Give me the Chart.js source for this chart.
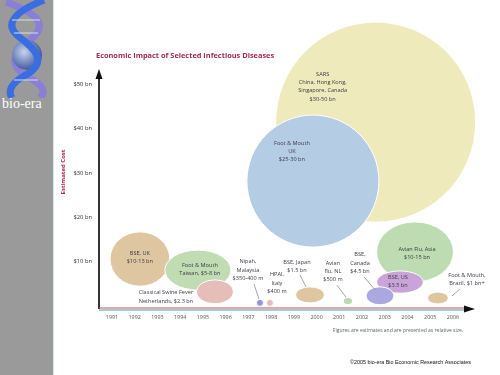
<!DOCTYPE html>
<html>
<head>
<meta charset="utf-8">
<script src="https://cdn.jsdelivr.net/npm/chart.js@4"></script>
<style>
  body { margin: 0; background: #fff; }
  #wrap { position: relative; width: 500px; height: 375px; overflow: hidden; }
  #side { position: absolute; left: 0; top: 0; width: 53px; height: 375px; background: #9a9a9a; border-right: 1px solid #cfe9ea; }
  #brand { position: absolute; left: 2px; top: 96px; color: #fff; font: 14px "Liberation Serif", "DejaVu Serif", serif; }
  #logo { position: absolute; left: 0; top: 0; }
  #chart { position: absolute; left: 0; top: 0; }
</style>
</head>
<body>
<div id="wrap">
  <div id="side">
    <svg id="logo" width="53" height="98" viewBox="0 0 53 98">
      <defs>
        <radialGradient id="globe" cx="0.4" cy="0.4" r="0.7">
          <stop offset="0" stop-color="#c8d2ea"/>
          <stop offset="0.6" stop-color="#6a7fb8"/>
          <stop offset="1" stop-color="#34468a"/>
        </radialGradient>
      </defs>
      <path d="M6 2 C 40 14, 48 26, 30 40 C 14 52, 6 66, 30 78 C 44 86, 46 92, 40 98" fill="none" stroke="#8a7fd6" stroke-width="7"/>
      <circle cx="27" cy="55" r="15" fill="url(#globe)"/>
      <path d="M44 0 C 14 12, 4 24, 18 36 C 34 48, 50 62, 24 76 C 10 84, 8 92, 12 98" fill="none" stroke="#3a6ee0" stroke-width="7"/>
      <path d="M12 20 L 40 20 M 14 33 L 38 33 M 14 80 L 38 80" stroke="#d7dcf0" stroke-width="1"/>
    </svg>
    <div id="brand">bio-era</div>
  </div>
  <canvas id="chart" width="500" height="375"></canvas>
</div>
<script>
// --- DATA ---
const diseases = ['SARS', 'Foot & Mouth UK', 'Avian Flu Asia', 'BSE US', 'BSE Canada', 'BSE UK',
  'Foot & Mouth Taiwan', 'Classical Swine Fever', 'Nipah', 'HPAI Italy', 'BSE Japan', 'Avian Flu NL', 'Foot & Mouth Brazil'];
const years = [2002.6, 1999.84, 2004.33, 2003.67, 2002.79, 1992.23, 1994.78, 1995.53, 1997.51, 1997.95, 1999.71, 2001.38, 2005.34];
const costs = [41.5, 28.2, 12.2, 5.4, 2.3, 10.6, 8.1, 3.2, 0.7, 0.7, 2.5, 1.1, 1.8];
const sizes = [100, 66, 34, 16.1, 11.2, 28.5, 25.7, 14.9, 3.5, 3.5, 10.8, 4, 7.9];
const yearTicks = [1991, 1992, 1993, 1994, 1995, 1996, 1997, 1998, 1999, 2000, 2001, 2002, 2003, 2004, 2005, 2006];
const costTicks = [10, 20, 30, 40, 50];

// --- STYLE ---
const fills = ['#efeabb', '#b5cde4', '#bddcb1', '#caa4d8', '#aaa8e1', '#dec7a0',
  '#bfdcb3', '#e5bdb9', '#8e95da', '#e8baba', '#dfc69f', '#b9dbb0', '#dfc69f'];
const stretch = [1, 1, 1.28, 2.1, 1.55, 1.1, 1.65, 1.55, 1, 1, 1.8, 1.3, 1.75];

// text lines, offset of first line from bubble centre, optional leader line
const notes = [
  { lines: ['SARS', 'China, Hong Kong,', 'Singapore, Canada', '$30-50 bn'], dx: -53, dy: -48 },
  { lines: ['Foot & Mouth', 'UK', '$25-30 bn'], dx: -21, dy: -38 },
  { lines: ['Avian Flu, Asia', '$10-15 bn'], dx: 2, dy: -3 },
  { lines: ['BSE, US', '$3.5 bn'], dx: -2, dy: -5 },
  { lines: ['BSE,', 'Canada', '$4.5 bn'], dx: -20, dy: -41, lead: [-16, -19, -5, -6] },
  { lines: ['BSE, UK', '$10-13 bn'], dx: 0, dy: -6 },
  { lines: ['Foot & Mouth', 'Taiwan, $5-8 bn'], dx: 2, dy: -5 },
  { lines: ['Classical Swine Fever', 'Netherlands, $2.3 bn'], dx: -49, dy: 1 },
  { lines: ['Nipah,', 'Malaysia', '$350-400 m'], dx: -12, dy: -41, lead: [-6, -19, -1, -4] },
  { lines: ['HPAI,', 'Italy', '$400 m'], dx: 7, dy: -28 },
  { lines: ['BSE, Japan', '$1.5 bn'], dx: -13, dy: -33, lead: [-10, -20, -4, -8] },
  { lines: ['Avian', 'flu, NL', '$500 m'], dx: -15, dy: -38, lead: [-11, -16, -2, -4] },
  { lines: ['Foot & Mouth,', 'Brazil, $1 bn+'], dx: 29, dy: -23, lead: [14, -2, 22, -9] }
];

const labelFont = '5.6px "Open Sans", sans-serif';

// --- PLUGIN: ellipses, labels, axes, titles ---
const slidePlugin = {
  id: 'slide',
  afterDatasetsDraw(chart) {
    const ctx = chart.ctx;
    const meta = chart.getDatasetMeta(0);
    ctx.save();
    meta.data.forEach((el, i) => {
      const r = el.options.radius;
      const k = Math.sqrt(stretch[i]);
      ctx.beginPath();
      ctx.ellipse(el.x, el.y, r * k, r / k, 0, 0, Math.PI * 2);
      ctx.fillStyle = fills[i];
      ctx.fill();
      ctx.lineWidth = 1;
      ctx.strokeStyle = '#ffffff';
      ctx.stroke();
    });
    ctx.font = labelFont;
    ctx.textAlign = 'center';
    ctx.textBaseline = 'middle';
    meta.data.forEach((el, i) => {
      const n = notes[i];
      ctx.fillStyle = '#3b3b45';
      n.lines.forEach((t, j) => ctx.fillText(t, el.x + n.dx, el.y + n.dy + j * 8.3));
      if (n.lead) {
        ctx.beginPath();
        ctx.moveTo(el.x + n.lead[0], el.y + n.lead[1]);
        ctx.lineTo(el.x + n.lead[2], el.y + n.lead[3]);
        ctx.strokeStyle = '#8a8f9a';
        ctx.lineWidth = 0.8;
        ctx.stroke();
      }
    });

    const a = chart.chartArea;
    // y axis with arrow
    ctx.strokeStyle = '#333';
    ctx.lineWidth = 2;
    ctx.beginPath();
    ctx.moveTo(a.left, a.bottom);
    ctx.lineTo(a.left, a.top + 8);
    ctx.stroke();
    ctx.fillStyle = '#111';
    ctx.beginPath();
    ctx.moveTo(a.left, a.top);
    ctx.lineTo(a.left - 3.5, a.top + 10);
    ctx.lineTo(a.left + 3.5, a.top + 10);
    ctx.closePath();
    ctx.fill();
    // x axis, two-tone, with arrow
    ctx.lineWidth = 1;
    ctx.strokeStyle = '#c5505a';
    ctx.beginPath();
    ctx.moveTo(a.left, a.bottom - 1);
    ctx.lineTo(a.right - 8, a.bottom - 1);
    ctx.stroke();
    ctx.strokeStyle = '#3f9ea0';
    ctx.beginPath();
    ctx.moveTo(a.left, a.bottom + 1);
    ctx.lineTo(a.right - 8, a.bottom + 1);
    ctx.stroke();
    ctx.fillStyle = '#111';
    ctx.beginPath();
    ctx.moveTo(a.right, a.bottom);
    ctx.lineTo(a.right - 11, a.bottom - 3.5);
    ctx.lineTo(a.right - 11, a.bottom + 3.5);
    ctx.closePath();
    ctx.fill();

    // titles and notes
    ctx.fillStyle = '#a8284e';
    ctx.font = 'bold 7.4px "Open Sans", sans-serif';
    ctx.textAlign = 'left';
    ctx.fillText('Economic Impact of Selected Infectious Diseases', 96, 56);
    ctx.save();
    ctx.translate(63, 172);
    ctx.rotate(-Math.PI / 2);
    ctx.textAlign = 'center';
    ctx.font = 'bold 6px "Open Sans", sans-serif';
    ctx.fillText('Estimated Cost', 0, 0);
    ctx.restore();
    ctx.fillStyle = '#5a6272';
    ctx.font = '5px "Open Sans", sans-serif';
    ctx.textAlign = 'center';
    ctx.fillText('Figures are estimates and are presented as relative size.', 398, 331);
    ctx.fillStyle = '#111';
    ctx.font = '5.4px "Liberation Sans", Arial, sans-serif';
    ctx.textAlign = 'left';
    ctx.fillText('\u00a92005 bio-era Bio Economic Research Associates', 350, 363);
    ctx.restore();
  }
};

const ctx = document.getElementById('chart').getContext('2d');
window.impactChart = new Chart(ctx, {
  type: 'bubble',
  data: {
    datasets: [{
      label: 'Economic impact',
      data: diseases.map((d, i) => ({ x: years[i], y: costs[i], r: sizes[i] })),
      backgroundColor: 'rgba(0,0,0,0)',
      borderWidth: 0
    }]
  },
  options: {
    responsive: false,
    animation: false,
    events: [],
    layout: { autoPadding: false, padding: { top: 69, right: 25, left: 0, bottom: 0 } },
    plugins: { legend: { display: false }, tooltip: { enabled: false } },
    scales: {
      x: {
        type: 'linear',
        min: 1990.43,
        max: 2006.97,
        afterBuildTicks: s => { s.ticks = yearTicks.map(v => ({ value: v })); },
        afterFit: s => { s.height = 66; },
        grid: { display: false, drawTicks: false },
        border: { display: false },
        ticks: {
          padding: 5,
          maxRotation: 0,
          autoSkip: false,
          color: '#555',
          font: { family: '"Open Sans", sans-serif', size: 5.4 },
          callback: v => String(v)
        }
      },
      y: {
        min: -0.68,
        max: 53.5,
        afterBuildTicks: s => { s.ticks = costTicks.map(v => ({ value: v })); },
        afterFit: s => { s.width = 99; },
        grid: { display: false, drawTicks: false },
        border: { display: false },
        ticks: {
          padding: 7,
          color: '#333',
          font: { family: '"Open Sans", sans-serif', size: 5.8 },
          callback: v => '$' + v + ' bn'
        }
      }
    }
  },
  plugins: [slidePlugin]
});
</script>
</body>
</html>
